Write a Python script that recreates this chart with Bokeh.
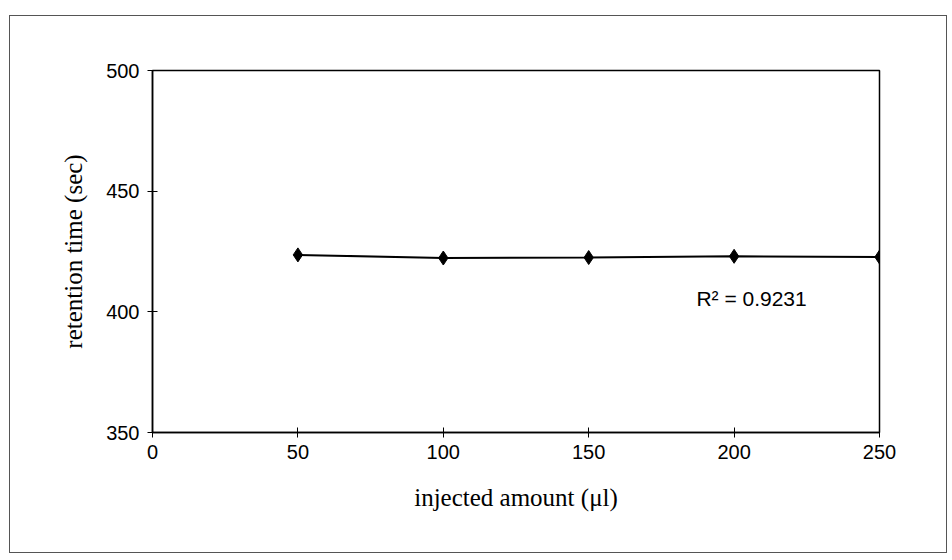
from bokeh.plotting import figure
from bokeh.models import FixedTicker, Label, Range1d
from bokeh.embed import file_html
from bokeh.resources import INLINE

injected_ul = [50, 100, 150, 200, 250]
retention_sec = [423.6, 422.3, 422.5, 423.0, 422.7]
x_ticks = [0, 50, 100, 150, 200, 250]
y_ticks = [350, 400, 450, 500]
r2_text = "R\u00b2 = 0.9231"

p = figure(width=938, height=538, output_backend="svg", toolbar_location=None,
           x_range=Range1d(0, 250), y_range=Range1d(350, 500),
           min_border_left=142, min_border_right=69, min_border_top=54,
           min_border_bottom=122,
           styles={"border": "1.5px solid #555", "margin-left": "9px",
                   "margin-top": "15px"})
p.background_fill_color = "white"
p.border_fill_color = "white"
p.outline_line_color = "black"
p.outline_line_width = 1.5
p.xgrid.visible = False
p.ygrid.visible = False

for ax in (p.xaxis[0], p.yaxis[0]):
    ax.axis_line_color = "black"
    ax.axis_line_width = 1.5
    ax.major_tick_in = 5
    ax.major_tick_out = 5
    ax.major_tick_line_color = "black"
    ax.minor_tick_line_color = None
    ax.major_label_text_font = "Liberation Sans"
    ax.major_label_text_font_size = "20px"
    ax.major_label_text_color = "black"
    ax.axis_label_text_font = "Liberation Serif"
    ax.axis_label_text_font_size = "25px"
    ax.axis_label_text_font_style = "normal"
    ax.axis_label_text_color = "black"

p.xaxis.ticker = FixedTicker(ticks=x_ticks)
p.yaxis.ticker = FixedTicker(ticks=y_ticks)
p.xaxis.axis_label = "injected amount (\u03bcl)"
p.yaxis.axis_label = "retention time (sec)"
p.xaxis.major_label_standoff = 7
p.yaxis.major_label_standoff = 8
p.xaxis.axis_label_standoff = 22
p.yaxis.axis_label_standoff = 16

p.line(injected_ul, retention_sec, line_color="black", line_width=2)
p.scatter(injected_ul, retention_sec, marker="diamond", size=14,
          fill_color="black", line_color="black")

p.add_layout(Label(x=206, y=405.5, text=r2_text, text_font="Liberation Sans",
                   text_font_size="21px", text_color="black",
                   text_align="center", text_baseline="middle"))

open("out.html", "w").write(file_html(p, INLINE))
